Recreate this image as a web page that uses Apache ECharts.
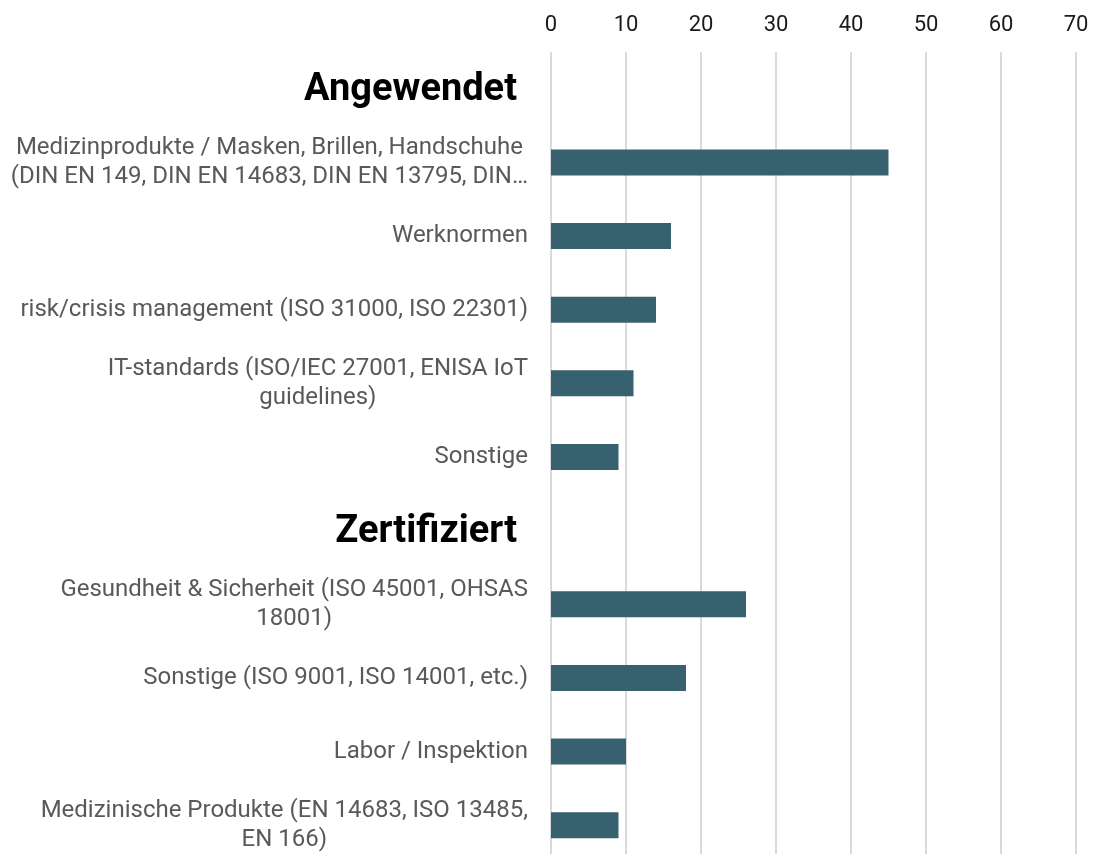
<!DOCTYPE html>
<html>
<head>
<meta charset="utf-8">
<script src="https://cdn.jsdelivr.net/npm/echarts@6/dist/echarts.min.js"></script>
<style>
  html, body { margin: 0; padding: 0; background: #fff; }
  #chart { width: 1117px; height: 854px; }
</style>
</head>
<body>
<div id="chart"></div>
<script>
// Kategorien (Gruppenüberschriften ohne Wert)
const categories = [
  'Angewendet',
  'Medizinprodukte / Masken, Brillen, Handschuhe\n(DIN EN 149, DIN EN 14683, DIN EN 13795, DIN…',
  'Werknormen',
  'risk/crisis management (ISO 31000, ISO 22301)',
  'IT-standards (ISO/IEC 27001, ENISA IoT\nguidelines)',
  'Sonstige',
  'Zertifiziert',
  'Gesundheit & Sicherheit (ISO 45001, OHSAS\n18001)',
  'Sonstige (ISO 9001, ISO 14001, etc.)',
  'Labor / Inspektion',
  'Medizinische Produkte (EN 14683, ISO 13485,\nEN 166)'
]
const headers = ['Angewendet', 'Zertifiziert']
const values = ['-', 45, 16, 14, 11, 9, '-', 26, 18, 10, 9]
const xTicks = [0, 70, 10] // min, max, interval

const chart = echarts.init(document.getElementById('chart'))
const option = {
  animation: false,
  textStyle: { fontFamily: 'Roboto' },
  grid: {
    left: 551,
    right: 41,
    top: 52,
    height: 810,
    containLabel: false,
    outerBoundsMode: 'none'
  },
  xAxis: {
    type: 'value',
    position: 'top',
    min: xTicks[0],
    max: xTicks[1],
    interval: xTicks[2],
    axisLine: { show: false },
    axisTick: { show: false },
    axisLabel: {
      fontSize: 22,
      color: '#1a1a1a',
      fontFamily: 'Roboto',
      margin: 16
    },
    splitLine: {
      show: true,
      lineStyle: { color: '#d9d9d9', width: 2 }
    }
  },
  yAxis: {
    type: 'category',
    inverse: true,
    data: categories,
    axisLine: { show: false },
    axisTick: { show: false },
    axisLabel: {
      interval: 0,
      margin: 23,
      fontFamily: 'Roboto',
      formatter: function(value) {
        if (headers.indexOf(value) > -1) {
          return '{h|' + value + '}'
        }
        // jede Zeile mittig ausrichten
        return value.split('\n').map(function(l) { return '{c|' + l + '}' }).join('\n')
      },
      rich: {
        h: {
          fontSize: 38,
          fontWeight: 'bold',
          color: '#000',
          fontFamily: 'Roboto',
          padding: [4, 11, 0, 0]
        },
        c: {
          fontSize: 24,
          lineHeight: 29,
          color: '#595959',
          fontFamily: 'Roboto',
          align: 'center'
        }
      }
    }
  },
  series: [{
    type: 'bar',
    data: values,
    barWidth: 26,
    itemStyle: { color: '#37616e' }
  }]
}
chart.setOption(option)
</script>
</body>
</html>
